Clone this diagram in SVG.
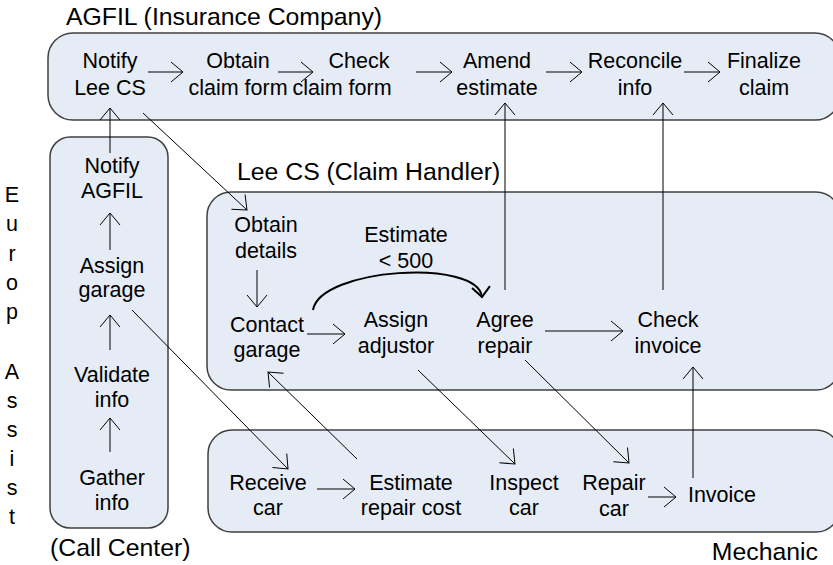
<svg xmlns="http://www.w3.org/2000/svg" width="833" height="565" viewBox="0 0 833 565">
<style>
text{font-family:"Liberation Sans",Arial,sans-serif;fill:#000}
.n{font-size:21.5px;text-anchor:middle}
.t{font-size:24.8px}
.lane{fill:#e6ecf6;stroke:#404040;stroke-width:1.5}
.c{fill:none;stroke:#000;stroke-width:1}
.cv{fill:none;stroke:#000;stroke-width:2}
</style>
<defs>
<marker id="ah" markerUnits="userSpaceOnUse" markerWidth="30" markerHeight="30" refX="0" refY="0" viewBox="-15 -15 30 30" orient="auto" overflow="visible">
<path d="M-12,-10 L0,0 L-12,10" fill="none" stroke="#000" stroke-width="1"/>
</marker>
<marker id="ah2" markerUnits="userSpaceOnUse" markerWidth="30" markerHeight="30" refX="0" refY="0" viewBox="-15 -15 30 30" orient="auto" overflow="visible">
<path d="M-10,-9 L0,0 L-10,9" fill="none" stroke="#000" stroke-width="2"/>
</marker>
</defs>

<g id="lanes">
<rect id="lane-agfil" class="lane" x="48" y="33" width="792" height="87" rx="25"/>
<rect id="lane-callcenter" class="lane" x="50" y="137" width="118" height="391" rx="20"/>
<rect id="lane-leecs" class="lane" x="207" y="192" width="633" height="198" rx="24"/>
<rect id="lane-mechanic" class="lane" x="208" y="430" width="632" height="102" rx="24"/>
</g>

<g id="lane-labels">
<text class="t" x="66" y="25">AGFIL (Insurance Company)</text>
<text class="t" x="237" y="180">Lee CS (Claim Handler)</text>
<text class="t" x="50" y="556">(Call Center)</text>
<text class="t" x="818" y="560" text-anchor="end">Mechanic</text>
<text class="n" x="12">
<tspan x="12" y="202">E</tspan><tspan x="12" y="231">u</tspan><tspan x="12" y="261">r</tspan><tspan x="12" y="290">o</tspan><tspan x="12" y="319">p</tspan><tspan x="12" y="379">A</tspan><tspan x="12" y="408">s</tspan><tspan x="12" y="437">s</tspan><tspan x="12" y="466">i</tspan><tspan x="12" y="495">s</tspan><tspan x="12" y="524">t</tspan>
</text>
</g>

<g id="connectors">
<path class="c" marker-end="url(#ah)" d="M148,72 H183"/>
<path class="c" marker-end="url(#ah)" d="M278,72 H313"/>
<path class="c" marker-end="url(#ah)" d="M416,72 H452"/>
<path class="c" marker-end="url(#ah)" d="M546,72 H582"/>
<path class="c" marker-end="url(#ah)" d="M684,72 H720"/>
<path class="c" marker-end="url(#ah)" d="M110,153 V108"/>
<path class="c" marker-end="url(#ah)" d="M505,290 V103"/>
<path class="c" marker-end="url(#ah)" d="M663,290 V103"/>
<path class="c" marker-end="url(#ah)" d="M143,113 L247,210"/>
<path class="c" marker-end="url(#ah)" d="M110,250 V213"/>
<path class="c" marker-end="url(#ah)" d="M110,350 V315"/>
<path class="c" marker-end="url(#ah)" d="M110,452 V418"/>
<path class="c" marker-end="url(#ah)" d="M257,270 V307"/>
<path class="c" marker-end="url(#ah)" d="M307,334 H345"/>
<path class="c" marker-end="url(#ah)" d="M545,331 H623"/>
<path class="cv" marker-end="url(#ah2)" d="M313,310 C320,268 478,258 482,297"/>
<path class="c" marker-end="url(#ah)" d="M357,459 L268,372"/>
<path class="c" marker-end="url(#ah)" d="M132,310 L288,469"/>
<path class="c" marker-end="url(#ah)" d="M418,370 L515,464"/>
<path class="c" marker-end="url(#ah)" d="M525,360 L629,463"/>
<path class="c" marker-end="url(#ah)" d="M317,489 H355"/>
<path class="c" marker-end="url(#ah)" d="M648,497 H676"/>
<path class="c" marker-end="url(#ah)" d="M693,478 V367"/>
</g>

<g id="notify-lee"><text class="n"><tspan x="110" y="68">Notify</tspan><tspan x="110" y="95">Lee CS</tspan></text></g>
<g id="obtain-claim-form"><text class="n"><tspan x="238" y="68">Obtain</tspan><tspan x="238" y="95">claim form</tspan></text></g>
<g id="check-claim-form"><text class="n"><tspan x="359" y="68">Check</tspan><tspan x="342" y="95">claim form</tspan></text></g>
<g id="amend-estimate"><text class="n"><tspan x="497" y="68">Amend</tspan><tspan x="497" y="95">estimate</tspan></text></g>
<g id="reconcile-info"><text class="n"><tspan x="635" y="68">Reconcile</tspan><tspan x="635" y="95">info</tspan></text></g>
<g id="finalize-claim"><text class="n"><tspan x="764" y="68">Finalize</tspan><tspan x="764" y="95">claim</tspan></text></g>

<g id="notify-agfil"><text class="n"><tspan x="112" y="173">Notify</tspan><tspan x="112" y="198">AGFIL</tspan></text></g>
<g id="assign-garage"><text class="n"><tspan x="112" y="273">Assign</tspan><tspan x="112" y="297">garage</tspan></text></g>
<g id="validate-info"><text class="n"><tspan x="112" y="382">Validate</tspan><tspan x="112" y="407">info</tspan></text></g>
<g id="gather-info"><text class="n"><tspan x="112" y="485">Gather</tspan><tspan x="112" y="510">info</tspan></text></g>

<g id="obtain-details"><text class="n"><tspan x="266" y="232">Obtain</tspan><tspan x="266" y="258">details</tspan></text></g>
<g id="contact-garage"><text class="n"><tspan x="267" y="332">Contact</tspan><tspan x="267" y="357">garage</tspan></text></g>
<g id="assign-adjustor"><text class="n"><tspan x="396" y="327">Assign</tspan><tspan x="396" y="353">adjustor</tspan></text></g>
<g id="agree-repair"><text class="n"><tspan x="505" y="327">Agree</tspan><tspan x="505" y="353">repair</tspan></text></g>
<g id="check-invoice"><text class="n"><tspan x="668" y="327">Check</tspan><tspan x="668" y="353">invoice</tspan></text></g>
<g id="estimate-label"><text class="n"><tspan x="406" y="242">Estimate</tspan><tspan x="406" y="268">&lt; 500</tspan></text></g>

<g id="receive-car"><text class="n"><tspan x="268" y="490">Receive</tspan><tspan x="268" y="515">car</tspan></text></g>
<g id="estimate-repair-cost"><text class="n"><tspan x="411" y="490">Estimate</tspan><tspan x="411" y="515">repair cost</tspan></text></g>
<g id="inspect-car"><text class="n"><tspan x="524" y="490">Inspect</tspan><tspan x="524" y="515">car</tspan></text></g>
<g id="repair-car"><text class="n"><tspan x="614" y="490">Repair</tspan><tspan x="614" y="516">car</tspan></text></g>
<g id="invoice"><text class="n"><tspan x="722" y="502">Invoice</tspan></text></g>
</svg>
